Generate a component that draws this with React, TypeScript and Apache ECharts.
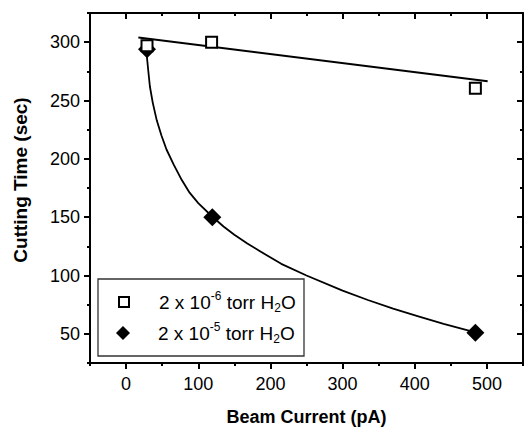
import React, { useEffect, useRef } from 'react';
import * as echarts from 'echarts';

const lowPressureName = '2 x 10-6 torr H2O';
const highPressureName = '2 x 10-5 torr H2O';
const legendExponents = ['-6', '-5'];

// measured points
const beamCurrentLow = [29, 118.5, 484];
const cuttingTimeLow = [297, 300, 260.5];
const beamCurrentHigh = [29, 119.5, 484];
const cuttingTimeHigh = [294, 150, 51];

// fitted curves
const fitLowX = [17, 501];
const fitLowY = [304, 266.5];
const fitHighX = [28.6, 31, 33, 37, 42.5, 49, 56, 66, 77, 88, 100, 118.5, 135, 150, 168, 185, 215, 250, 300, 335, 370, 405, 440, 484];
const fitHighY = [289, 274, 262, 248, 233, 220, 208, 195, 182, 171, 162, 151, 142, 135, 127.5, 121, 110, 100, 87, 79, 71.6, 65, 58.6, 51.3];

const xRange = [-50, 550];
const yRange = [25, 325];
const xMajorTicks = [0, 100, 200, 300, 400, 500];
const yMajorTicks = [50, 100, 150, 200, 250, 300];

const FONT = '"Liberation Sans", Arial, Helvetica, sans-serif';

const zip = (xs: number[], ys: number[]) => xs.map((x, i) => [x, ys[i]]);

export default function App() {
  const ref = useRef<HTMLDivElement>(null);
  useEffect(() => {
    if (!ref.current) return;
    const chart = echarts.init(ref.current, undefined, { renderer: 'svg' });
    const black = '#000';

    // Regular ticks counted from min fall on the unlabelled half-steps (short),
    // minor ticks (split in two) fall on the labelled values (long).
    const ticks = (inside: boolean) => ({
      axisTick: { show: true, inside, length: 3, lineStyle: { color: black, width: 2 } },
      minorTick: { show: true, splitNumber: 2, length: 6, lineStyle: { color: black, width: 2 } },
    });
    const xAx = (position: string, inside: boolean, extra: object = {}) => ({
      type: 'value',
      position,
      min: xRange[0],
      max: xRange[1],
      interval: 100,
      splitLine: { show: false },
      minorSplitLine: { show: false },
      axisLine: { show: true, onZero: false, lineStyle: { color: black, width: 2 } },
      ...ticks(inside),
      axisLabel: { show: false },
      ...extra,
    });
    const yAx = (position: string, inside: boolean, extra: object = {}) => ({
      type: 'value',
      position,
      min: yRange[0],
      max: yRange[1],
      interval: 50,
      splitLine: { show: false },
      minorSplitLine: { show: false },
      axisLine: { show: true, onZero: false, lineStyle: { color: black, width: 2 } },
      ...ticks(inside),
      axisLabel: { show: false },
      ...extra,
    });
    const legendRich = {
      gap0: { width: 25, fontSize: 19, lineHeight: 24 },
      gap1: { width: 23, fontSize: 19, lineHeight: 24 },
      m: { fontSize: 19, fontFamily: FONT, color: black, lineHeight: 24 },
      sup: { fontSize: 12, fontFamily: FONT, color: black, lineHeight: 12, verticalAlign: 'top' },
      sub: { fontSize: 12, fontFamily: FONT, color: black, lineHeight: 6, verticalAlign: 'bottom' },
    };
    const legendFormatter = (name: string) => {
      const isLow = name === lowPressureName;
      const exp = isLow ? legendExponents[0] : legendExponents[1];
      return `{${isLow ? 'gap0' : 'gap1'}| }{m|2 x 10}{sup|${exp}}{m| torr H}{sub|2}{m|O}`;
    };
    chart.setOption({
      animation: false,
      grid: { left: 90, top: 13, width: 433, height: 350, containLabel: false, outerBoundsMode: 'none' },
      xAxis: [
        xAx('bottom', false, {
          axisLabel: { show: true, customValues: xMajorTicks, fontSize: 18, color: black, fontFamily: FONT, margin: 12 },
          name: 'Beam Current (pA)',
          nameLocation: 'middle',
          nameGap: 45,
          nameTextStyle: { fontSize: 18, fontWeight: 'bold', color: black, fontFamily: FONT },
        }),
        xAx('top', true),
      ],
      yAxis: [
        yAx('left', false, {
          axisLabel: { show: true, customValues: yMajorTicks, fontSize: 18, color: black, fontFamily: FONT, margin: 10 },
          name: 'Cutting Time (sec)',
          nameLocation: 'middle',
          nameGap: 60,
          nameRotate: 90,
          nameTextStyle: { fontSize: 19, fontWeight: 'bold', color: black, fontFamily: FONT, padding: [0, 0, 0, 16] },
        }),
        yAx('right', true),
      ],
      legend: [
        {
          data: [lowPressureName],
          left: 118,
          top: 290,
          padding: 0,
          itemWidth: 10,
          itemHeight: 10,
          itemGap: 0,
          formatter: legendFormatter,
          textStyle: { rich: legendRich, color: black, fontFamily: FONT, fontSize: 19 },
          selectedMode: false,
        },
        {
          data: [highPressureName],
          left: 116,
          top: 321,
          padding: 0,
          itemWidth: 14,
          itemHeight: 14,
          itemGap: 0,
          formatter: legendFormatter,
          textStyle: { rich: legendRich, color: black, fontFamily: FONT, fontSize: 19 },
          selectedMode: false,
        },
      ],
      graphic: [
        {
          type: 'rect',
          shape: { x: 98, y: 279, width: 206, height: 77 },
          style: { fill: 'none', stroke: '#333', lineWidth: 1.3 },
          z: 100,
          silent: true,
        },
      ],
      series: [
        {
          name: 'fit high',
          type: 'line',
          xAxisIndex: 0,
          yAxisIndex: 0,
          data: zip(fitHighX, fitHighY),
          showSymbol: false,
          smooth: false,
          lineStyle: { color: black, width: 1.8, join: 'round' },
          silent: true,
          z: 2,
        },
        {
          name: 'fit low',
          type: 'line',
          xAxisIndex: 0,
          yAxisIndex: 0,
          data: zip(fitLowX, fitLowY),
          showSymbol: false,
          lineStyle: { color: black, width: 1.8 },
          silent: true,
          z: 2,
        },
        {
          name: highPressureName,
          type: 'scatter',
          xAxisIndex: 0,
          yAxisIndex: 0,
          data: zip(beamCurrentHigh, cuttingTimeHigh),
          symbol: 'diamond',
          symbolSize: 18,
          itemStyle: { color: black, opacity: 1 },
          z: 3,
        },
        {
          name: lowPressureName,
          type: 'scatter',
          xAxisIndex: 0,
          yAxisIndex: 0,
          data: zip(beamCurrentLow, cuttingTimeLow),
          symbol: 'rect',
          symbolSize: 11,
          itemStyle: { color: '#fff', borderColor: black, borderWidth: 2, opacity: 1 },
          z: 4,
        },
      ],
    });
    return () => chart.dispose();
  }, []);
  return (
    <div
      ref={ref}
      style={{ position: 'fixed', left: 0, top: 0, width: 524, height: 428, background: '#fff' }}
    />
  );
}
